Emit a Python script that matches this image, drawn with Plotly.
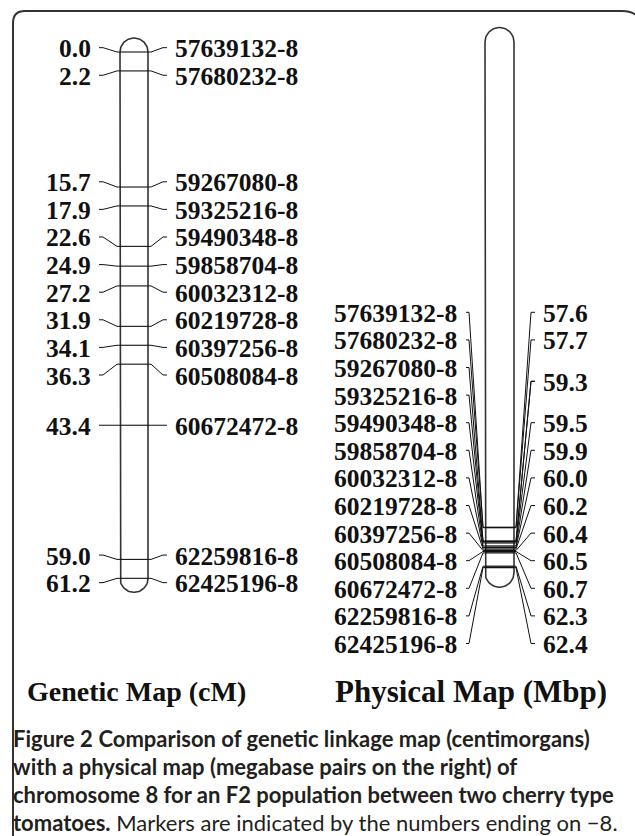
import numpy as np
import plotly.graph_objects as go

# ---------------- data ----------------
markers = ["57639132-8", "57680232-8", "59267080-8", "59325216-8", "59490348-8",
           "59858704-8", "60032312-8", "60219728-8", "60397256-8", "60508084-8",
           "60672472-8", "62259816-8", "62425196-8"]
genetic_cM = [0.0, 2.2, 15.7, 17.9, 22.6, 24.9, 27.2, 31.9, 34.1, 36.3, 43.4, 59.0, 61.2]
physical_bp = [57639132, 57680232, 59267080, 59325216, 59490348, 59858704, 60032312,
               60219728, 60397256, 60508084, 60672472, 62259816, 62425196]
chromosome_length_Mbp = 63.03
map_titles = ["Genetic Map (cM)", "Physical Map (Mbp)"]
caption_lines = [
    "<b>Figure 2</b> <b>Comparison of genetic linkage map (centimorgans)</b>",
    "<b>with a physical map (megabase pairs on the right) of</b>",
    "<b>chromosome 8 for an F2 population between two cherry type</b>",
    "<b>tomatoes.</b> Markers are indicated by the numbers ending on \u22128.",
]

# ---------------- layout constants (pixels) ----------------
W, H = 635, 836
GEN = dict(px0=52.0, scale=8.6, xl=120.0, xr=148.0)
PHY = dict(px0=42.0, scale=8.42, xl=485.0, xr=514.0)
LABEL_GAP = 27.6
LABEL_LO, LABEL_HI = 40.0, 643.5
SERIF = "Liberation Serif"
INK = "#111111"
LABEL_SIZE = 25.5


def to_px(v, m):
    return m["px0"] + m["scale"] * v


def to_val(px, m):
    return (px - m["px0"]) / m["scale"]


def spread(bands, gap, lo, hi):
    """Place labels at least `gap` apart, clusters centred on their bands."""
    clusters = [[b] for b in bands]

    def start(c):
        n = len(c)
        s = np.mean(c) - (n - 1) * gap / 2
        return max(lo, min(s, hi - (n - 1) * gap))

    merged = True
    while merged:
        merged = False
        for i in range(len(clusters) - 1):
            a, b = clusters[i], clusters[i + 1]
            if start(a) + len(a) * gap > start(b) + 1e-9:
                clusters[i] = a + b
                del clusters[i + 1]
                merged = True
                break
    out = []
    for c in clusters:
        s = start(c)
        out += [s + k * gap for k in range(len(c))]
    return out


fig = go.Figure()


def chromosome(m, v_top, v_bot, yaxis):
    cx = (m["xl"] + m["xr"]) / 2
    r = (m["xr"] - m["xl"]) / 2
    top, bot = to_px(v_top, m), to_px(v_bot, m)
    t = np.linspace(0, np.pi, 40)
    xs = [m["xl"], m["xl"]] + list(cx - r * np.cos(t)) + [m["xr"]] + list(cx + r * np.cos(t))
    ys = [top, bot] + list(bot + r * np.sin(t)) + [top] + list(top - r * np.sin(t))
    fig.add_trace(go.Scatter(x=xs, y=[to_val(y, m) for y in ys], yaxis=yaxis, mode="lines",
                             line=dict(color="#333333", width=1.6), hoverinfo="skip"))


def bands(m, vals, yaxis, width):
    xs, ys = [], []
    for v in vals:
        xs += [m["xl"], m["xr"], None]
        ys += [v, v, None]
    fig.add_trace(go.Scatter(x=xs, y=ys, yaxis=yaxis, mode="lines",
                             line=dict(color=INK, width=width), hoverinfo="skip"))


def connectors(m, pts_list, yaxis):
    xs, ys = [], []
    for pts in pts_list:
        for x, ypx in pts:
            xs.append(x)
            ys.append(to_val(ypx, m))
        xs.append(None)
        ys.append(None)
    fig.add_trace(go.Scatter(x=xs, y=ys, yaxis=yaxis, mode="lines",
                             line=dict(color=INK, width=1), hoverinfo="skip"))


annotations = []


def label(x, v, text, anchor, yref, dy=1.0):
    annotations.append(dict(x=x, y=v, xref="x", yref=yref, text=f"<b>{text}</b>",
                            showarrow=False, xanchor=anchor, yanchor="middle", yshift=-dy,
                            font=dict(family=SERIF, size=LABEL_SIZE, color=INK)))


# ---------------- genetic map ----------------
chromosome(GEN, min(genetic_cM), max(genetic_cM), "y")
bands(GEN, genetic_cM, "y", 1.1)
g_band_px = [to_px(v, GEN) for v in genetic_cM]
g_lab_px = spread(g_band_px, LABEL_GAP, LABEL_LO, LABEL_HI)
left_pts, right_pts = [], []
for b, l in zip(g_band_px, g_lab_px):
    left_pts.append([(99, l), (103, l), (117, b), (GEN["xl"], b)])
    right_pts.append([(GEN["xr"], b), (151, b), (163, l), (167, l)])
connectors(GEN, left_pts + right_pts, "y")
for v, l, name in zip(genetic_cM, g_lab_px, markers):
    label(93, to_val(l, GEN), f"{v:.1f}", "right", "y")
    label(173, to_val(l, GEN), name, "left", "y")

# ---------------- physical map ----------------
phys_Mbp = [p / 1e6 for p in physical_bp]
chromosome(PHY, 0.0, chromosome_length_Mbp, "y2")
bands(PHY, phys_Mbp, "y2", 1.3)
p_band_px = [to_px(v, PHY) for v in phys_Mbp]
p_lab_px = spread(p_band_px, LABEL_GAP, LABEL_LO, LABEL_HI)
mbp_text = [f"{round(v, 1):.1f}" for v in phys_Mbp]
groups = {}
for t, l in zip(mbp_text, p_lab_px):
    groups.setdefault(t, []).append(l)
mbp_pos = {t: float(np.mean(ls)) for t, ls in groups.items()}
left_pts, right_pts = [], []
for b, l, t in zip(p_band_px, p_lab_px, mbp_text):
    left_pts.append([(466, l), (469, l), (483, b), (PHY["xl"], b)])
    r = mbp_pos[t]
    right_pts.append([(PHY["xr"], b), (516, b), (531, r), (535, r)])
connectors(PHY, left_pts + right_pts, "y2")
for l, name in zip(p_lab_px, markers):
    label(459, to_val(l, PHY), name, "right", "y2")
for t, r in mbp_pos.items():
    label(541, to_val(r, PHY), t, "left", "y2")

# ---------------- titles & caption ----------------
for text, cx, size in zip(map_titles, [136, 471], [28, 31]):
    annotations.append(dict(x=cx, y=691, xref="x", yref="y3", text=f"<b>{text}</b>",
                            showarrow=False, xanchor="center", yanchor="middle",
                            font=dict(family=SERIF, size=size, color=INK)))
for i, line in enumerate(caption_lines):
    annotations.append(dict(x=11, y=738 + i * 28.0, xref="x", yref="y3", text=line,
                            showarrow=False, xanchor="left", yanchor="middle",
                            font=dict(family="Lato", size=22, color="#231f20")))

# frame with rounded top corners
frame = dict(type="path", xref="x", yref="y3",
             path="M 13,836 L 13,23 Q 13,11 25,11 L 622,11 Q 632,11 637,16",
             line=dict(color="#333333", width=2))

fig.update_layout(
    width=W, height=H, autosize=False,
    margin=dict(l=0, r=0, t=0, b=0),
    paper_bgcolor="white", plot_bgcolor="white",
    showlegend=False,
    xaxis=dict(range=[0, W], visible=False, fixedrange=True),
    yaxis=dict(range=[to_val(H, GEN), to_val(0, GEN)], visible=False, fixedrange=True),
    yaxis2=dict(range=[to_val(H, PHY), to_val(0, PHY)], visible=False, overlaying="y",
                fixedrange=True),
    yaxis3=dict(range=[H, 0], visible=False, overlaying="y", fixedrange=True),
    annotations=annotations,
    shapes=[frame],
)
# a dummy trace so yaxis3 is instantiated
fig.add_trace(go.Scatter(x=[None], y=[None], yaxis="y3", hoverinfo="skip"))

fig.write_html("out.html", config={"displayModeBar": False},
               post_script="document.body.style.margin='0';document.body.style.overflow='hidden';")
